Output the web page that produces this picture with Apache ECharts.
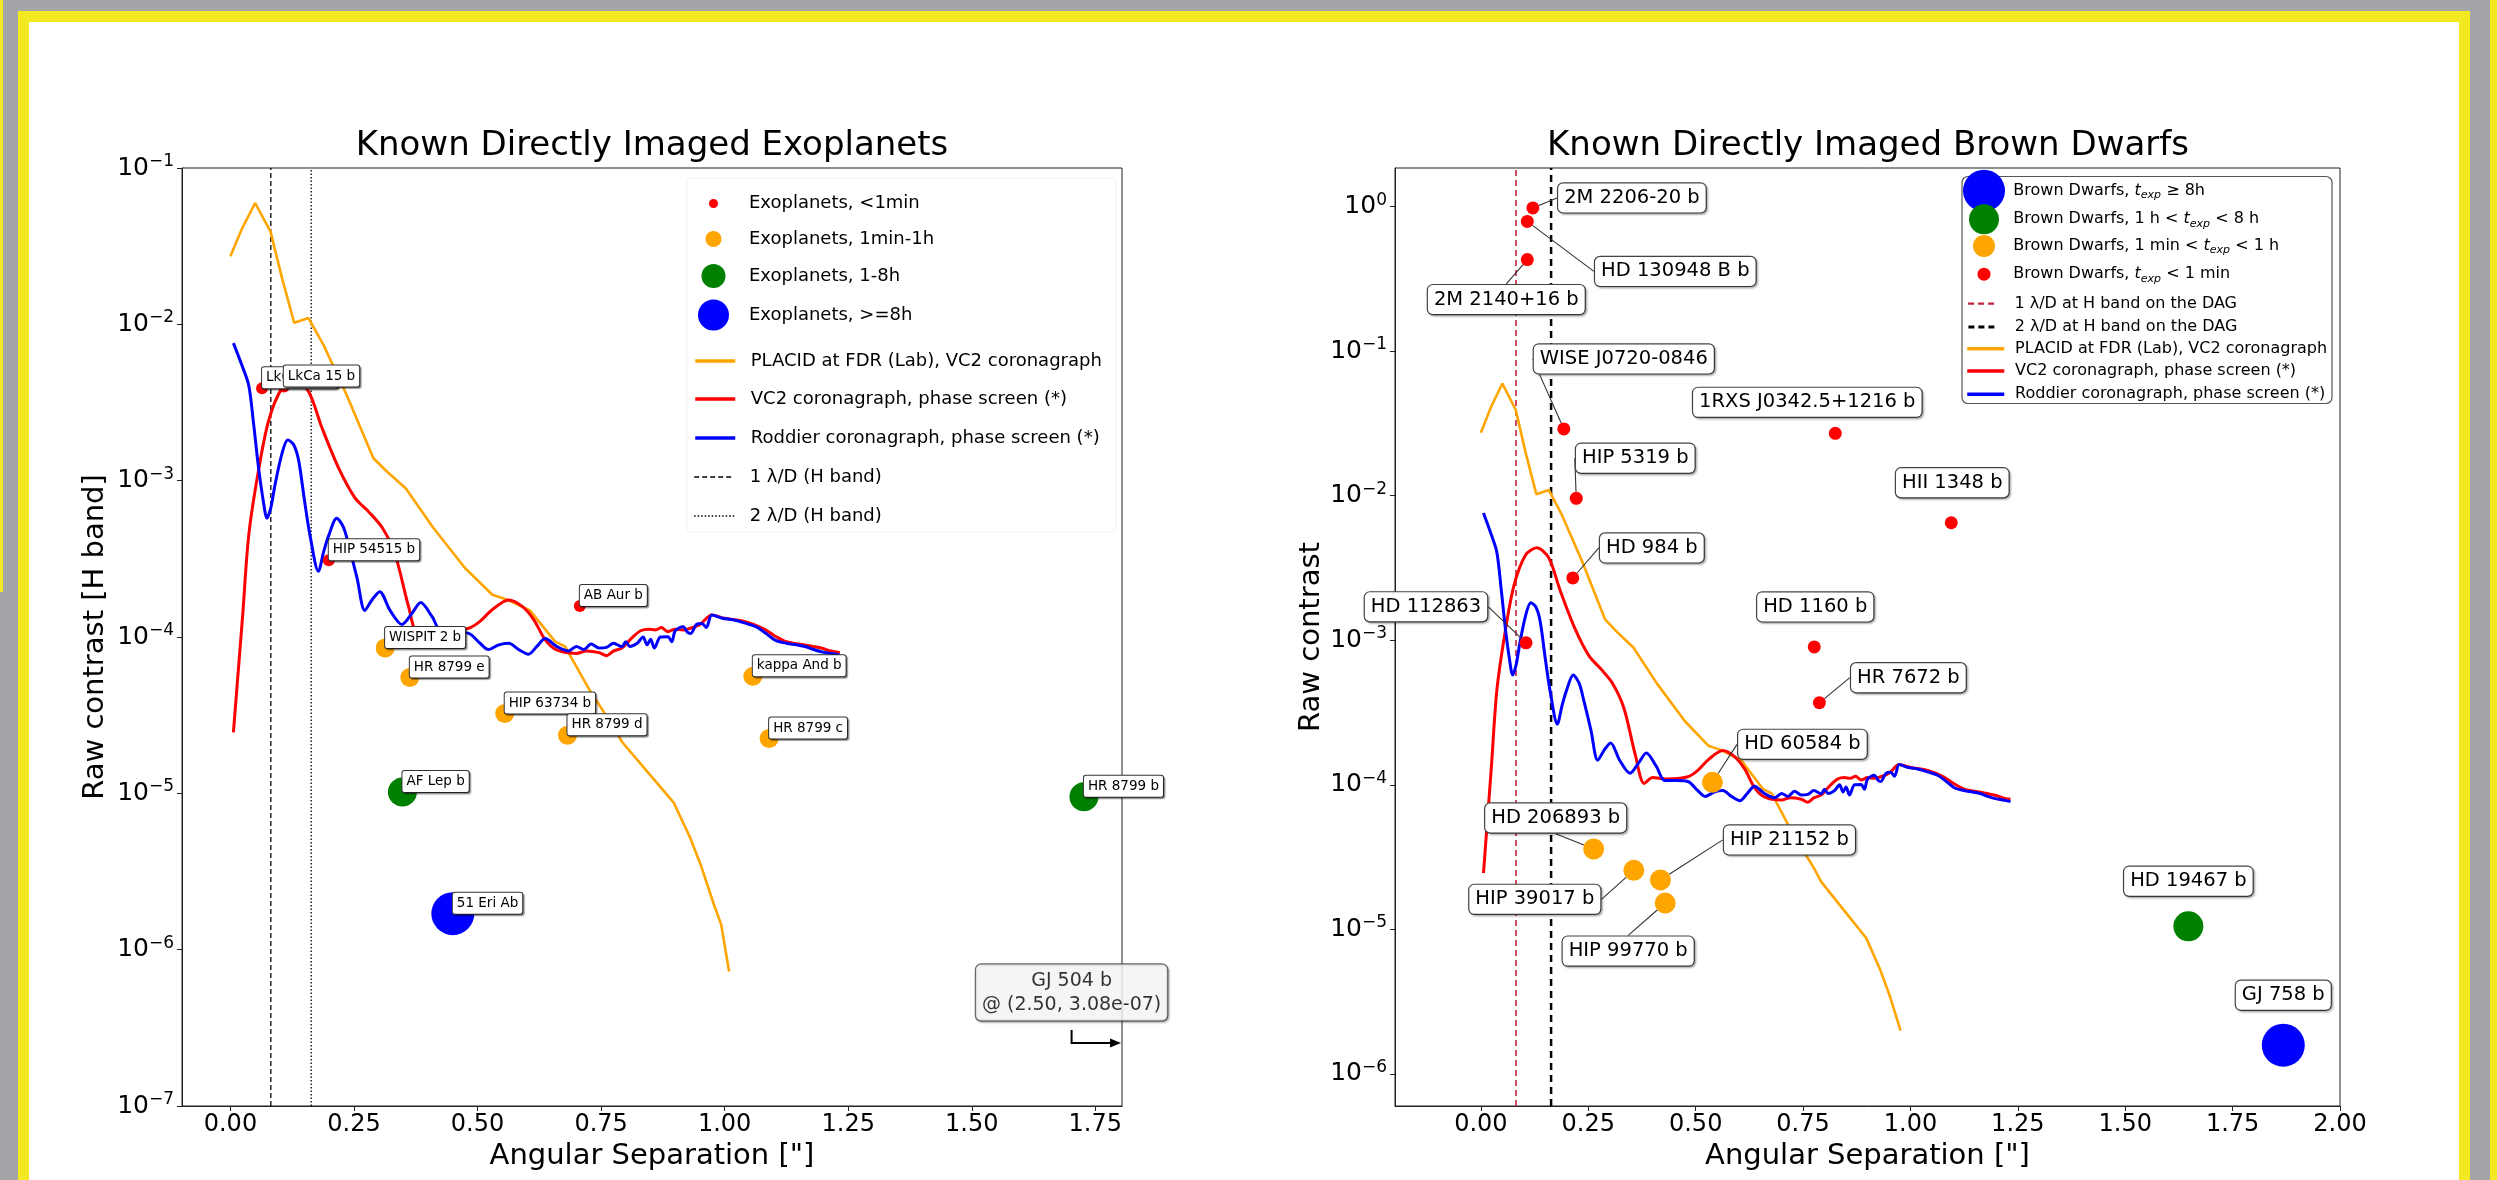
<!DOCTYPE html>
<html>
<head>
<meta charset="utf-8">
<script src="https://cdn.jsdelivr.net/npm/echarts@6/dist/echarts.min.js"></script>
<style>
  html, body { margin: 0; padding: 0; width: 2497px; height: 1180px; overflow: hidden; background: #a4a5a9; }
  .strip { position: absolute; background: #f2e923; }
  #inner { position: absolute; left: 29px; top: 22px; width: 2430px; height: 1158px; background: #fff; }
  #main { position: absolute; left: 0; top: 0; width: 2497px; height: 1180px; }
</style>
</head>
<body>
<div class="strip" style="left:0;top:0;width:3px;height:592px"></div>
<div class="strip" style="left:2490px;top:0;width:7px;height:1180px"></div>
<div class="strip" style="left:18px;top:11px;width:2452px;height:1169px"></div>
<div id="inner"></div>
<div id="main"></div>
<script>
const FONT = 'DejaVu Sans';

// contrast curves (separation in arcsec, log10 of raw contrast)
const placidSep = [0.0, 0.023, 0.05, 0.081, 0.104, 0.129, 0.158, 0.188, 0.235, 0.289, 0.316, 0.355, 0.41, 0.475, 0.53, 0.559, 0.606, 0.657, 0.677, 0.725, 0.776, 0.792, 0.843, 0.897, 0.929, 0.953, 0.977];
const placidLogC = [-1.565, -1.39, -1.224, -1.405, -1.70, -1.99, -1.96, -2.13, -2.45, -2.855, -2.94, -3.05, -3.30, -3.56, -3.73, -3.76, -3.83, -4.03, -4.06, -4.33, -4.58, -4.67, -4.86, -5.06, -5.275, -5.47, -5.70];
// the exoplanet panel's PLACID curve runs a little further down
const placidTailSep = [0.993, 1.009];
const placidTailLogC = [-5.84, -6.14];

const vc2Sep = [0.006, 0.013, 0.025, 0.037, 0.056, 0.077, 0.104, 0.13, 0.158, 0.185, 0.219, 0.252, 0.28, 0.307, 0.333, 0.36, 0.38, 0.40, 0.43, 0.482, 0.505, 0.529, 0.563, 0.591, 0.614, 0.637, 0.66, 0.70, 0.72, 0.746, 0.761, 0.775, 0.792, 0.805, 0.815, 0.83, 0.846, 0.86, 0.872, 0.885, 0.90, 0.915, 0.931, 0.95, 0.974, 1.0, 1.04, 1.077, 1.10, 1.125, 1.16, 1.195, 1.215, 1.233];
const vc2LogC = [-4.61, -4.33, -3.85, -3.35, -2.95, -2.62, -2.41, -2.36, -2.43, -2.66, -2.92, -3.11, -3.2, -3.30, -3.47, -3.80, -3.99, -3.95, -3.96, -3.944, -3.90, -3.827, -3.763, -3.806, -3.89, -4.019, -4.083, -4.105, -4.09, -4.10, -4.12, -4.09, -4.07, -4.03, -3.998, -3.96, -3.95, -3.955, -3.94, -3.966, -3.95, -3.955, -3.944, -3.92, -3.86, -3.88, -3.90, -3.944, -3.99, -4.03, -4.05, -4.07, -4.09, -4.10];

const roddierSep = [0.006, 0.023, 0.037, 0.047, 0.057, 0.066, 0.074, 0.082, 0.09, 0.104, 0.116, 0.128, 0.138, 0.15, 0.161, 0.178, 0.189, 0.199, 0.215, 0.229, 0.239, 0.256, 0.272, 0.287, 0.302, 0.323, 0.347, 0.367, 0.385, 0.408, 0.428, 0.455, 0.482, 0.505, 0.522, 0.543, 0.563, 0.583, 0.603, 0.62, 0.637, 0.66, 0.684, 0.70, 0.715, 0.730, 0.746, 0.761, 0.775, 0.792, 0.80, 0.808, 0.823, 0.835, 0.843, 0.850, 0.858, 0.87, 0.885, 0.893, 0.90, 0.916, 0.925, 0.931, 0.943, 0.954, 0.963, 0.974, 0.995, 1.017, 1.04, 1.063, 1.085, 1.102, 1.125, 1.145, 1.164, 1.18, 1.195, 1.215, 1.233];
const roddierLogC = [-2.12, -2.26, -2.39, -2.64, -2.92, -3.12, -3.24, -3.17, -3.03, -2.83, -2.74, -2.77, -2.87, -3.13, -3.35, -3.58, -3.45, -3.35, -3.24, -3.30, -3.41, -3.62, -3.83, -3.76, -3.71, -3.83, -3.92, -3.85, -3.78, -3.87, -3.97, -3.97, -3.977, -4.04, -4.08, -4.05, -4.04, -4.08, -4.11, -4.06, -4.01, -4.06, -4.09, -4.06, -4.08, -4.045, -4.07, -4.066, -4.04, -4.062, -4.03, -4.06, -4.04, -4.0, -4.05, -4.015, -4.07, -4.0, -3.998, -4.03, -3.96, -3.934, -3.97, -3.977, -3.92, -3.913, -3.94, -3.86, -3.88, -3.89, -3.91, -3.934, -3.98, -4.02, -4.04, -4.05, -4.062, -4.08, -4.094, -4.105, -4.115];

// 1 and 2 lambda/D at H band
const lambdaOverD = [0.0817, 0.1634];

// known exoplanets
const exoFastNames = ['LkCa 15 b', 'LkCa 15 b', 'HIP 54515 b', 'AB Aur b'];
const exoFastSep = [0.064, 0.108, 0.199, 0.707];
const exoFastContrast = [3.9e-3, 4.0e-3, 3.1e-4, 1.58e-4];
const exoMidNames = ['WISPIT 2 b', 'HR 8799 e', 'HIP 63734 b', 'HR 8799 d', 'kappa And b', 'HR 8799 c'];
const exoMidSep = [0.313, 0.363, 0.555, 0.682, 1.057, 1.09];
const exoMidContrast = [8.5e-5, 5.5e-5, 3.24e-5, 2.35e-5, 5.6e-5, 2.24e-5];
const exoLongNames = ['AF Lep b', 'HR 8799 b'];
const exoLongSep = [0.348, 1.727];
const exoLongContrast = [1.02e-5, 9.5e-6];
const exoVeryLongNames = ['51 Eri Ab'];
const exoVeryLongSep = [0.45];
const exoVeryLongContrast = [1.7e-6];
// GJ 504 b lies off the plot, pointed at with an arrow
const gj504Anchor = [1.702, 3.06e-7];
const gj504Arrow = [[1.702, 3.06e-7], [1.702, 2.53e-7], [1.785, 2.53e-7]];
const gj504Tip = [1.791, 2.53e-7];

// known brown dwarfs
const bdFastNames = ['2M 2206-20 b', 'HD 130948 B b', '2M 2140+16 b', 'WISE J0720-0846', '1RXS J0342.5+1216 b', 'HIP 5319 b', 'HII 1348 b', 'HD 984 b', 'HD 112863', 'HD 1160 b', 'HR 7672 b'];
const bdFastSep = [0.121, 0.108, 0.108, 0.193, 0.825, 0.222, 1.095, 0.214, 0.105, 0.776, 0.788];
const bdFastContrast = [0.98, 0.79, 0.43, 0.029, 0.027, 0.0096, 0.0065, 0.0027, 9.6e-4, 9.0e-4, 3.7e-4];
const bdMidNames = ['HD 60584 b', 'HD 206893 b', 'HIP 39017 b', 'HIP 21152 b', 'HIP 99770 b'];
const bdMidSep = [0.539, 0.2625, 0.356, 0.418, 0.429];
const bdMidContrast = [1.04e-4, 3.6e-5, 2.56e-5, 2.2e-5, 1.52e-5];
const bdLongNames = ['HD 19467 b'];
const bdLongSep = [1.647];
const bdLongContrast = [1.05e-5];
const bdVeryLongNames = ['GJ 758 b'];
const bdVeryLongSep = [1.868];
const bdVeryLongContrast = [1.58e-6];

const xTicksLeft = [0, 0.25, 0.5, 0.75, 1.0, 1.25, 1.5, 1.75];
const xTicksRight = [0, 0.25, 0.5, 0.75, 1.0, 1.25, 1.5, 1.75, 2.0];

// where each brown dwarf label box sits, relative to its point (px)
const bdLabelShift = {
  '2M 2206-20 b': [99, -10], 'HD 130948 B b': [148, 50], '2M 2140+16 b': [-21, 40],
  'WISE J0720-0846': [60, -70], '1RXS J0342.5+1216 b': [-28, -31], 'HIP 5319 b': [59, -40],
  'HII 1348 b': [1, -40], 'HD 984 b': [79, -30], 'HD 112863': [-100, -36], 'HD 1160 b': [1, -40],
  'HR 7672 b': [89, -25], 'HD 60584 b': [90, -38], 'HD 206893 b': [-38, -31], 'HIP 39017 b': [-99, 29],
  'HIP 21152 b': [129, -40], 'HIP 99770 b': [-37, 48], 'HD 19467 b': [0, -45], 'GJ 758 b': [0, -50]
};
const bdArrowed = ['2M 2206-20 b', 'HD 130948 B b', '2M 2140+16 b', 'WISE J0720-0846', 'HIP 5319 b', 'HD 984 b',
  'HD 112863', 'HR 7672 b', 'HD 60584 b', 'HD 206893 b', 'HIP 39017 b', 'HIP 21152 b', 'HIP 99770 b'];

const PLACID = 'PLACID at FDR (Lab), VC2 coronagraph';
const VC2 = 'VC2 coronagraph, phase screen (*)';
const RODDIER = 'Roddier coronagraph, phase screen (*)';

const leftRange = { xMin: -0.098, xMax: 1.804, yMin: 1e-7, yMax: 0.1 };
const rightRange = { xMin: -0.2, xMax: 2.0, yMin: 6e-7, yMax: 1.85 };

const zip = (xs, logs) => xs.map((x, i) => [x, Math.pow(10, logs[i])]);

function powTen(v) {
  const e = Math.log10(v);
  if (Math.abs(e - Math.round(e)) > 1e-6) return '';
  const n = Math.round(e);
  return '{b|10}{s|' + (n < 0 ? '\u2212' + (-n) : n) + '}';
}

function xAxis(idx, range, ticks) {
  return {
    type: 'value', gridIndex: idx, min: range.xMin, max: range.xMax,
    name: 'Angular Separation ["]', nameLocation: 'middle', nameGap: 32,
    nameTextStyle: { fontFamily: FONT, fontSize: 29, color: '#000' },
    axisLine: { show: true, onZero: false, lineStyle: { color: '#222', width: 1 } },
    axisTick: { show: true, inside: false, length: 5, customValues: ticks, lineStyle: { color: '#222' } },
    axisLabel: { customValues: ticks, margin: 7, fontFamily: FONT, fontSize: 24, color: '#000', formatter: v => v.toFixed(2) },
    splitLine: { show: false }
  };
}

function yAxis(idx, range, name, gap) {
  return {
    type: 'log', logBase: 10, gridIndex: idx, min: range.yMin, max: range.yMax, splitNumber: 7,
    name, nameLocation: 'middle', nameRotate: 90, nameGap: gap,
    nameTextStyle: { fontFamily: FONT, fontSize: 29, color: '#000' },
    axisLine: { show: true, onZero: false, lineStyle: { color: '#222', width: 1 } },
    axisTick: { show: true, inside: false, length: 5, lineStyle: { color: '#222' } },
    axisLabel: {
      margin: 8, formatter: powTen, showMinLabel: idx === 0, showMaxLabel: idx === 0,
      rich: {
        b: { fontFamily: FONT, fontSize: 25, color: '#000', lineHeight: 30 },
        s: { fontFamily: FONT, fontSize: 17, color: '#000', lineHeight: 14, verticalAlign: 'top' }
      }
    },
    splitLine: { show: false }
  };
}

function curve(name, idx, data, color, width, smooth) {
  return {
    type: 'line', name, xAxisIndex: idx, yAxisIndex: idx, data, symbol: 'none', showSymbol: false,
    smooth, z: 2, lineStyle: { color, width }, itemStyle: { color }
  };
}

function vline(name, idx, x, range, color, width, dash) {
  return {
    type: 'line', name, xAxisIndex: idx, yAxisIndex: idx, symbol: 'none', z: 1,
    data: [[x, range.yMin], [x, range.yMax]],
    lineStyle: { color, width, type: dash }, itemStyle: { color }
  };
}

const exoLabel = {
  show: true, formatter: '{b}', position: ['50%', '50%'], align: 'left', verticalAlign: 'bottom',
  fontFamily: FONT, fontSize: 13.5, lineHeight: 15, color: '#000',
  backgroundColor: '#fff', borderColor: '#333', borderWidth: 1, borderRadius: 2, padding: [3, 4],
  shadowColor: 'rgba(0,0,0,0.35)', shadowOffsetX: 1.5, shadowOffsetY: 1.5, shadowBlur: 1
};

function exoSeries(name, names, seps, contrasts, color, size) {
  return {
    type: 'scatter', name, xAxisIndex: 0, yAxisIndex: 0, symbolSize: size, z: 4,
    itemStyle: { color, opacity: 1 },
    data: names.map((n, i) => ({ name: n, value: [seps[i], contrasts[i]] })),
    label: exoLabel
  };
}

function bdSeries(name, names, seps, contrasts, color, size) {
  return {
    type: 'scatter', name, xAxisIndex: 1, yAxisIndex: 1, symbolSize: size, z: 4,
    itemStyle: { color, opacity: 1 },
    data: names.map((n, i) => ({ name: n, value: [seps[i], contrasts[i]], labelLine: { show: bdArrowed.includes(n) } })),
    label: {
      show: true, position: 'inside', formatter: '{b}', fontFamily: FONT, fontSize: 19.5, lineHeight: 21, color: '#000',
      backgroundColor: '#fff', borderColor: '#444', borderWidth: 1.2, borderRadius: 5, padding: [4, 6],
      shadowColor: 'rgba(0,0,0,0.25)', shadowOffsetX: 1.5, shadowOffsetY: 1.5, shadowBlur: 2
    },
    labelLine: { show: false, smooth: 0.3, lineStyle: { color: '#333', width: 1.1 } },
    labelLayout: p => { const s = bdLabelShift[names[p.dataIndex]]; return { dx: s[0], dy: s[1] }; }
  };
}

// one legend component per row, so each row gets its own symbol size
function legendRow(name, cx, cy, w, h, textStart, fontSize, extra) {
  return Object.assign({
    data: [{ name }], left: cx - w / 2, top: cy - h / 2, itemWidth: w, itemHeight: h,
    padding: 0, selectedMode: false, orient: 'horizontal',
    textStyle: { fontFamily: FONT, fontSize, color: '#000', padding: [0, 0, 0, textStart - (cx + w / 2 + 5)] }
  }, extra || {});
}
// line rows: a flat icon box so the legend's marker dot hides inside the line
function lineRow(name, cx, cy, w, textStart, fontSize, lineStyle) {
  return legendRow(name, cx, cy, w, 4, textStart, fontSize, { lineStyle, itemStyle: { opacity: 0 } });
}

const bdRich = {
  n: { fontFamily: FONT, fontSize: 16, color: '#000', lineHeight: 20 },
  i: { fontFamily: FONT, fontSize: 16, fontStyle: 'italic', color: '#000', lineHeight: 20 },
  x: { fontFamily: FONT, fontSize: 11, fontStyle: 'italic', color: '#000', lineHeight: 9, verticalAlign: 'bottom' }
};
const bdFmt = name => name.split('t_exp').map(s => s ? '{n|' + s + '}' : '').join('{i|t}{x|exp}');

const BD_LONGEST = 'Brown Dwarfs, t_exp \u2265 8h';
const BD_LONG = 'Brown Dwarfs, 1 h < t_exp < 8 h';
const BD_MID = 'Brown Dwarfs, 1 min < t_exp < 1 h';
const BD_FAST = 'Brown Dwarfs, t_exp < 1 min';
const LD1_R = '1 \u03bb/D at H band on the DAG';
const LD2_R = '2 \u03bb/D at H band on the DAG';
const LD1_L = '1 \u03bb/D (H band)';
const LD2_L = '2 \u03bb/D (H band)';

const lx = 713.5, lt = 749, lf = 18;
const rx = 1984, rt = 2013.3, rf = 16;
function bdRow(name, cy, d) {
  return legendRow(name, rx, cy, d, d, rt, rf, {
    formatter: bdFmt,
    textStyle: { rich: bdRich, padding: [0, 0, 0, rt - (rx + d / 2 + 5)] }
  });
}
const legends = [
  legendRow('Exoplanets, <1min', lx, 199, 9, 9, lt, lf),
  legendRow('Exoplanets, 1min-1h', lx, 238, 16, 16, lt, lf),
  legendRow('Exoplanets, 1-8h', lx, 276, 24, 24, lt, lf),
  legendRow('Exoplanets, >=8h', lx, 315, 31, 31, lt, lf),
  lineRow(PLACID, lx, 354, 40, lt, lf, { width: 3.5 }),
  lineRow(VC2, lx, 392, 40, lt, lf, { width: 3.5 }),
  lineRow(RODDIER, lx, 431, 40, lt, lf, { width: 3.5 }),
  lineRow(LD1_L, lx, 470, 40, lt, lf, { width: 1.4, type: [5, 3] }),
  lineRow(LD2_L, lx, 509, 40, lt, lf, { width: 1.4, type: [1.5, 2] }),
  bdRow(BD_LONGEST, 190.7, 42),
  bdRow(BD_LONG, 219.3, 30),
  bdRow(BD_MID, 246, 22),
  bdRow(BD_FAST, 272.7, 13),
  lineRow(LD1_R, 1981, 297.7, 28, rt, rf, { width: 2.2, type: [6, 4] }),
  lineRow(LD2_R, 1981, 321, 28, rt, rf, { width: 2.8, type: [6, 4] }),
  lineRow(PLACID, rx, 342.7, 37, rt, rf, { width: 3.5 }),
  lineRow(VC2, rx, 365, 37, rt, rf, { width: 3.5 }),
  lineRow(RODDIER, rx, 388.3, 37, rt, rf, { width: 3.5 })
];

const chart = echarts.init(document.getElementById('main'), null, { renderer: 'canvas' });

const option = {
  backgroundColor: 'transparent',
  animation: false,
  title: [
    { text: 'Known Directly Imaged Exoplanets', left: 652, top: 129, textAlign: 'center', textVerticalAlign: 'top', padding: 0,
      textStyle: { fontFamily: FONT, fontSize: 34, fontWeight: 'normal', color: '#000' } },
    { text: 'Known Directly Imaged Brown Dwarfs', left: 1868, top: 129, textAlign: 'center', textVerticalAlign: 'top', padding: 0,
      textStyle: { fontFamily: FONT, fontSize: 34, fontWeight: 'normal', color: '#000' } }
  ],
  grid: [
    { left: 182, top: 168, width: 940, height: 938, show: true, borderColor: '#222', borderWidth: 1, outerBoundsMode: 'none', containLabel: false },
    { left: 1395, top: 168, width: 945, height: 938, show: true, borderColor: '#222', borderWidth: 1, outerBoundsMode: 'none', containLabel: false }
  ],
  xAxis: [xAxis(0, leftRange, xTicksLeft), xAxis(1, rightRange, xTicksRight)],
  yAxis: [yAxis(0, leftRange, 'Raw contrast [H band]', 72), yAxis(1, rightRange, 'Raw contrast', 67)],
  legend: legends,
  graphic: [
    { type: 'rect', z: 1, shape: { x: 1962, y: 176.5, width: 370, height: 227, r: 6 },
      style: { fill: 'rgba(255,255,255,0.85)', stroke: '#555', lineWidth: 1.2 } },
    { type: 'rect', z: 1, shape: { x: 687, y: 178, width: 429, height: 354, r: 4 },
      style: { fill: 'rgba(255,255,255,0)', stroke: '#f2f2f2', lineWidth: 1 } }
  ],
  series: [
    curve(PLACID, 0, zip(placidSep.concat(placidTailSep), placidLogC.concat(placidTailLogC)), '#ffa500', 2.6, false),
    curve(VC2, 0, zip(vc2Sep, vc2LogC), '#ff0000', 3, 0.3),
    curve(RODDIER, 0, zip(roddierSep, roddierLogC), '#0000ff', 3, 0.3),
    vline(LD1_L, 0, lambdaOverD[0], leftRange, '#000', 1.3, [5, 3]),
    vline(LD2_L, 0, lambdaOverD[1], leftRange, '#000', 1.3, [1.5, 2]),
    exoSeries('Exoplanets, <1min', exoFastNames, exoFastSep, exoFastContrast, '#ff0000', 12),
    exoSeries('Exoplanets, 1min-1h', exoMidNames, exoMidSep, exoMidContrast, '#ffa500', 19),
    exoSeries('Exoplanets, 1-8h', exoLongNames, exoLongSep, exoLongContrast, '#008000', 29),
    exoSeries('Exoplanets, >=8h', exoVeryLongNames, exoVeryLongSep, exoVeryLongContrast, '#0000ff', 43),
    {
      type: 'lines', coordinateSystem: 'cartesian2d', xAxisIndex: 0, yAxisIndex: 0, polyline: true, z: 4,
      symbol: 'none', lineStyle: { color: '#000', width: 2, opacity: 1 },
      data: [{ coords: gj504Arrow }]
    },
    {
      type: 'scatter', name: 'GJ 504 b arrow', xAxisIndex: 0, yAxisIndex: 0, z: 4,
      symbol: 'triangle', symbolSize: [9, 11], symbolRotate: -90, itemStyle: { color: '#000', opacity: 1 },
      data: [gj504Tip]
    },
    {
      type: 'scatter', name: 'GJ 504 b', xAxisIndex: 0, yAxisIndex: 0, symbolSize: 1, z: 4,
      itemStyle: { color: 'rgba(0,0,0,0)' },
      data: [{ name: 'GJ 504 b', value: gj504Anchor }],
      label: {
        show: true, position: 'top', distance: 9, align: 'center',
        formatter: 'GJ 504 b\n@ (2.50, 3.08e-07)', fontFamily: FONT, fontSize: 19, lineHeight: 24, color: '#000',
        backgroundColor: '#fff', borderColor: '#444', borderWidth: 1.2, borderRadius: 5, padding: [4, 6],
        shadowColor: 'rgba(0,0,0,0.25)', shadowOffsetX: 1.5, shadowOffsetY: 1.5, shadowBlur: 2
      }
    },

    curve(PLACID, 1, zip(placidSep, placidLogC), '#ffa500', 2.6, false),
    curve(VC2, 1, zip(vc2Sep, vc2LogC), '#ff0000', 3, 0.3),
    curve(RODDIER, 1, zip(roddierSep, roddierLogC), '#0000ff', 3, 0.3),
    vline(LD1_R, 1, lambdaOverD[0], rightRange, '#c0203c', 1.6, [6, 4]),
    vline(LD2_R, 1, lambdaOverD[1], rightRange, '#000', 2.5, [7, 5]),
    bdSeries(BD_FAST, bdFastNames, bdFastSep, bdFastContrast, '#ff0000', 13),
    bdSeries(BD_MID, bdMidNames, bdMidSep, bdMidContrast, '#ffa500', 21),
    bdSeries(BD_LONG, bdLongNames, bdLongSep, bdLongContrast, '#008000', 30),
    bdSeries(BD_LONGEST, bdVeryLongNames, bdVeryLongSep, bdVeryLongContrast, '#0000ff', 43)
  ]
};

chart.setOption(option);
</script>
</body>
</html>
